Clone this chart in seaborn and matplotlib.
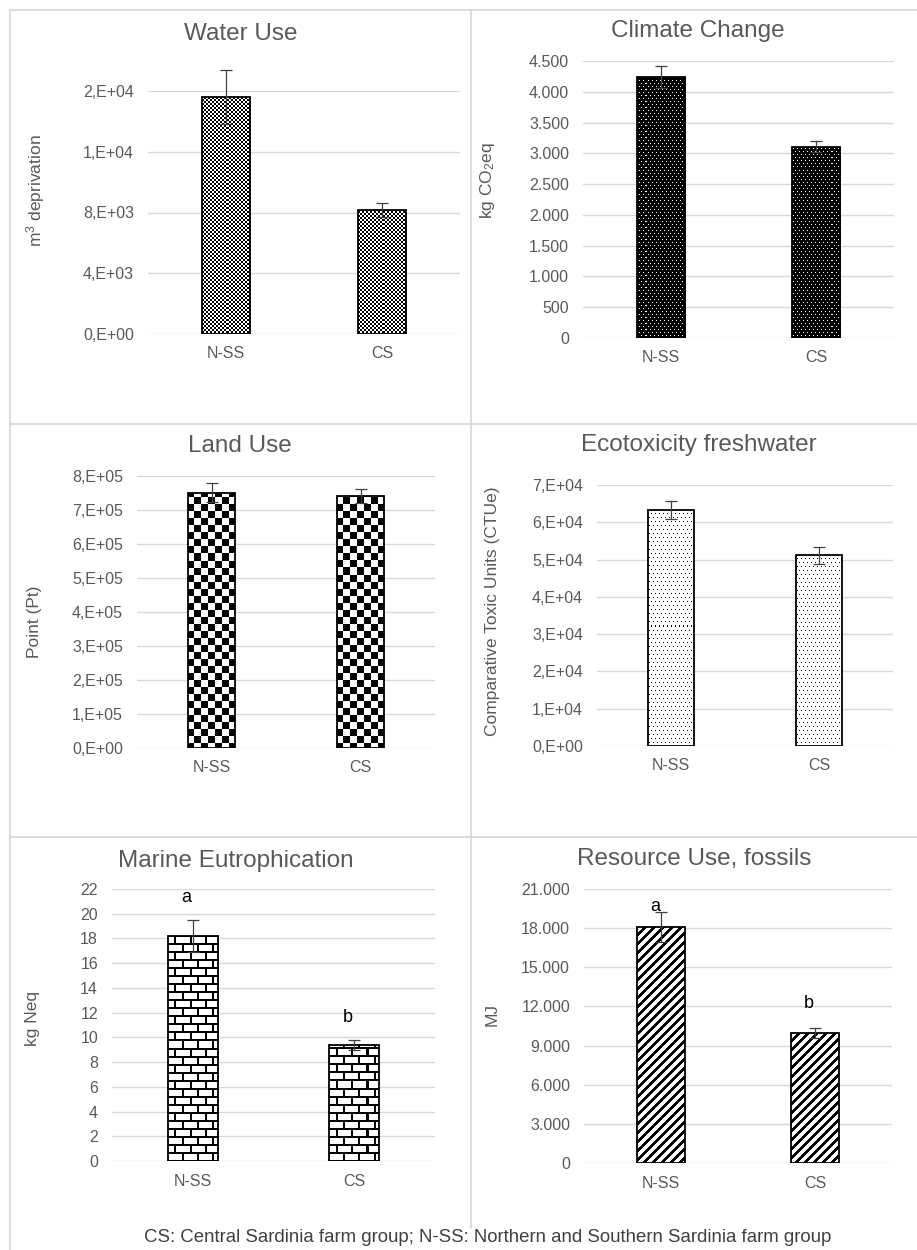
import numpy as np
import matplotlib
matplotlib.use('Agg')
import matplotlib.pyplot as plt
from matplotlib.lines import Line2D
import seaborn as sns

# ── Data ──
categories = ['N-SS', 'CS']

water_mean = [15600, 8150]
water_err = [1750, 470]
water_ticks = [0, 4000, 8000, 12000, 16000]
water_ticklabels = ['0,E+00', '4,E+03', '8,E+03', '1,E+04', '2,E+04']

climate_mean = [4240, 3110]
climate_err = [180, 90]
climate_ticks = [0, 500, 1000, 1500, 2000, 2500, 3000, 3500, 4000, 4500]
climate_ticklabels = ['0', '500', '1.000', '1.500', '2.000', '2.500',
                      '3.000', '3.500', '4.000', '4.500']

land_mean = [751000, 742000]
land_err = [27000, 21000]
land_ticks = [0, 1e5, 2e5, 3e5, 4e5, 5e5, 6e5, 7e5, 8e5]
land_ticklabels = ['0,E+00', '1,E+05', '2,E+05', '3,E+05', '4,E+05',
                   '5,E+05', '6,E+05', '7,E+05', '8,E+05']

ecotox_mean = [63300, 51100]
ecotox_err = [2500, 2300]
ecotox_ticks = [0, 1e4, 2e4, 3e4, 4e4, 5e4, 6e4, 7e4]
ecotox_ticklabels = ['0,E+00', '1,E+04', '2,E+04', '3,E+04', '4,E+04',
                     '5,E+04', '6,E+04', '7,E+04']

marine_mean = [18.2, 9.4]
marine_err = [1.3, 0.4]
marine_ticks = [0, 2, 4, 6, 8, 10, 12, 14, 16, 18, 20, 22]
marine_ticklabels = ['0', '2', '4', '6', '8', '10', '12', '14', '16', '18', '20', '22']
marine_letters = ['a', 'b']
marine_letter_y = [21.35, 11.6]

fossil_mean = [18050, 9950]
fossil_err = [1150, 400]
fossil_ticks = [0, 3000, 6000, 9000, 12000, 15000, 18000, 21000]
fossil_ticklabels = ['0', '3.000', '6.000', '9.000', '12.000', '15.000',
                     '18.000', '21.000']
fossil_letters = ['a', 'b']
fossil_letter_y = [19650, 12250]

footer = 'CS: Central Sardinia farm group; N-SS: Northern and Southern Sardinia farm group'

# ── Style ──
sns.set_style('white')
plt.rcParams['font.family'] = ['Liberation Sans', 'DejaVu Sans']
plt.rcParams['mathtext.fontset'] = 'custom'
plt.rcParams['mathtext.rm'] = 'Liberation Sans'
plt.rcParams['mathtext.it'] = 'Liberation Sans:italic'
plt.rcParams['mathtext.bf'] = 'Liberation Sans:bold'

W, H = 917, 1250
GRAY = '#595959'
GRID = '#d9d9d9'

fig = plt.figure(figsize=(W / 100, H / 100), dpi=100)
fig.patch.set_facecolor('white')


def fx(x):
    return x / W


def fy(y):
    return 1 - y / H


# ── fill patterns (1 = white, 0 = black) ──
def pattern(kind, nr, nc):
    r, c = np.mgrid[0:nr, 0:nc]
    r = r[::-1]  # count rows from the bottom of the bar
    if kind == 'fine_check':
        return ((r // 2 + c // 2) % 2).astype(float)
    if kind == 'big_check':
        return ((r // 7 + c // 7) % 2).astype(float)
    if kind == 'dark_dots':
        dots = ((r % 6 == 0) & (c % 4 == 0)) | ((r % 6 == 3) & (c % 4 == 2))
        return dots.astype(float)
    if kind == 'light_dots':
        dots = ((r % 8 == 0) & (c % 4 == 0)) | ((r % 8 == 4) & (c % 4 == 2))
        return 1.0 - dots.astype(float)
    if kind == 'brick':
        hline = (r % 8 < 2)
        band = r // 8
        vline = np.where(band % 2 == 0, c % 15 < 2, (c + 7) % 15 < 2)
        return 1.0 - (hline | vline).astype(float)
    if kind == 'stripes':
        return ((r + c) % 9 >= 4).astype(float)[::-1]
    return np.ones((nr, nc))


def fill_bars(ax, kind):
    inv = ax.transData.inverted()
    for bar in list(ax.patches):
        bb = bar.get_window_extent()
        x0, y0 = np.floor(bb.x0) - 1, np.floor(bb.y0) - 1
        nc = int(np.ceil(bb.width)) + 3
        nr = int(np.ceil(bb.height)) + 3
        (dx0, dy0) = inv.transform((x0, y0))
        (dx1, dy1) = inv.transform((x0 + nc, y0 + nr))
        img = ax.imshow(pattern(kind, nr, nc), cmap='gray', vmin=0, vmax=1,
                        extent=(dx0, dx1, dy0, dy1), origin='upper',
                        interpolation='nearest', aspect='auto', zorder=2.5)
        img.set_clip_path(bar)
        bar.set_facecolor('none')
        bar.set_zorder(3)


panels = [
    # title, values, errors, ticks, ticklabels, ylabel, pattern, axes box (l, t, r, b), title pos, ylabel pos
    ('Water Use', water_mean, water_err, water_ticks, water_ticklabels,
     'm$^\\mathrm{3}$ deprivation', 'fine_check', (148, 91, 460, 334), (241, 40), (36, 191)),
    ('Climate Change', climate_mean, climate_err, climate_ticks, climate_ticklabels,
     'kg CO$_\\mathrm{2}$eq', 'dark_dots', (583, 61, 894, 338), (698, 36.5), (487, 181)),
    ('Land Use', land_mean, land_err, land_ticks, land_ticklabels,
     'Point (Pt)', 'big_check', (137, 476, 435, 748), (240, 452), (34.5, 622)),
    ('Ecotoxicity freshwater', ecotox_mean, ecotox_err, ecotox_ticks, ecotox_ticklabels,
     'Comparative Toxic Units (CTUe)', 'light_dots', (597, 485, 893, 746), (699, 450.5), (493, 611)),
    ('Marine Eutrophication', marine_mean, marine_err, marine_ticks, marine_ticklabels,
     'kg Neq', 'brick', (112, 889, 435, 1161), (236, 867), (32, 1018)),
    ('Resource Use, fossils', fossil_mean, fossil_err, fossil_ticks, fossil_ticklabels,
     'MJ', 'stripes', (584, 889, 892, 1163), (694, 865), (492, 1015)),
]

axes = []
for title, vals, errs, ticks, tlabels, ylab, kind, box, tpos, lpos in panels:
    l, t, r, b = box
    ax = fig.add_axes([fx(l), fy(b), (r - l) / W, (b - t) / H])
    sns.barplot(x=categories, y=vals, ax=ax, color='white', width=0.31,
                saturation=1, edgecolor='black', linewidth=1.3)
    ax.set_xlim(-0.5, 1.5)
    ax.set_ylim(ticks[0], ticks[-1])
    ax.set_yticks(ticks)
    ax.set_yticklabels(tlabels)
    ax.set_xlabel('')

    fill_bars(ax, kind)
    ax.set_xlim(-0.5, 1.5)
    ax.set_ylim(ticks[0], ticks[-1])

    eb = ax.errorbar([0, 1], vals, yerr=errs, fmt='none', ecolor='#404040',
                     elinewidth=0.9, capsize=4, capthick=0.9, zorder=5)
    for child in eb.get_children():
        child.set_clip_on(False)

    sns.despine(ax=ax, left=True, bottom=True)
    ax.yaxis.grid(True, color=GRID, lw=1)
    ax.xaxis.grid(False)
    ax.set_axisbelow(True)
    ax.tick_params(axis='both', length=0, labelsize=11.5, labelcolor=GRAY)
    ax.tick_params(axis='y', pad=10)
    ax.tick_params(axis='x', pad=9)

    ax.set_title(title, fontsize=17.5, color=GRAY, y=(b - tpos[1]) / (b - t),
                 va='baseline', pad=0)
    ax.title.set_x((tpos[0] - l) / (r - l))

    ax.set_ylabel(ylab, fontsize=12.5, color=GRAY)
    ax.yaxis.set_label_coords(fx(lpos[0]), fy(lpos[1]), transform=fig.transFigure)
    ax.yaxis.label.set_verticalalignment('center')
    axes.append(ax)

# significance letters
for ax, letters, ly in [(axes[4], marine_letters, marine_letter_y),
                        (axes[5], fossil_letters, fossil_letter_y)]:
    for i, (lt, yv) in enumerate(zip(letters, ly)):
        ax.text(i - 0.04, yv, lt, ha='center', va='center', fontsize=13,
                color='black', zorder=6)

# ── panel frame lines ──
frame = [((10, 10), (10, 1250)), ((10, 917), (10, 10)),
         ((471, 471), (10, 1228)), ((10, 917), (424, 424)),
         ((10, 917), (837, 837))]
for xs, ys in frame:
    fig.add_artist(Line2D([fx(xs[0]), fx(xs[1])], [fy(ys[0]), fy(ys[1])],
                          transform=fig.transFigure, color='#d6d6d6', lw=1.2))

fig.text(fx(487.5), fy(1238), footer, ha='center', va='center',
         fontsize=13.4, color='#404040')

plt.savefig('out.png', dpi=100)
